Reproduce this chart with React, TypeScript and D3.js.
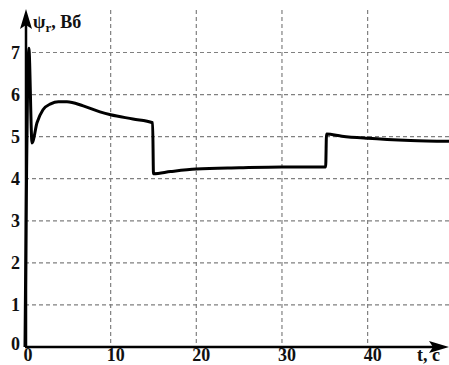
import { useEffect, useRef } from 'react'
import * as d3 from 'd3'

const W = 449, H = 365

// values: t in s, psi in Wb
const T = [0, 0.45, 0.82, 1.4, 2.1, 3.0, 3.9, 4.9, 6.8, 8.75, 10, 12.6, 14.9, 15.0, 17, 20, 25, 30, 35.1, 35.2, 37, 40, 45, 49.5]
const PSI = [0, 7.1, 4.85, 5.33, 5.64, 5.78, 5.83, 5.83, 5.73, 5.59, 5.52, 5.42, 5.33, 4.12, 4.17, 4.23, 4.26, 4.28, 4.28, 5.06, 5.01, 4.96, 4.91, 4.89]
const X_TICKS = [0, 10, 20, 30, 40]
const Y_TICKS = [0, 1, 2, 3, 4, 5, 6, 7]

const FONT = "'Liberation Serif', 'DejaVu Serif', serif"

export default function App() {
  const ref = useRef<SVGSVGElement>(null)

  useEffect(() => {
    document.body.style.margin = '0'
    const x = d3.scaleLinear([0, 49.5], [25, 449])
    const y = d3.scaleLinear([0, 7], [347, 52.5])
    const svg = d3.select(ref.current)
    svg.selectAll('*').remove()

    // grid
    const grid = svg.append('g').attr('stroke', '#808080').attr('stroke-width', 1.2).attr('stroke-dasharray', '4,3')
    Y_TICKS.filter(v => v > 0).forEach(v => {
      grid.append('line').attr('x1', x(0)).attr('x2', W).attr('y1', y(v)).attr('y2', y(v))
    })
    X_TICKS.filter(v => v > 0).forEach(v => {
      grid.append('line').attr('x1', x(v)).attr('x2', x(v)).attr('y1', 10).attr('y2', y(0))
    })

    // axes
    svg.append('line').attr('x1', 26).attr('x2', 26).attr('y1', y(0)).attr('y2', 20)
      .attr('stroke', '#000').attr('stroke-width', 2.5)
    svg.append('path').attr('d', 'M26,9 L32,29 L26,25 L20,29 Z').attr('fill', '#000')
    svg.append('line').attr('x1', 25).attr('x2', 440).attr('y1', y(0)).attr('y2', y(0))
      .attr('stroke', '#000').attr('stroke-width', 2.5)
    svg.append('path').attr('d', `M449,${y(0)} L429,${y(0) - 6} L433,${y(0)} L429,${y(0) + 6} Z`).attr('fill', '#000')

    const txt = (sel: any) => sel.style('font-family', FONT).style('font-size', '18px').style('font-weight', 'bold').attr('fill', '#111')

    // tick labels
    svg.append('g').selectAll('text').data(Y_TICKS).join('text')
      .attr('x', 20).attr('y', d => (d === 0 ? y(d) - 3 : y(d)) + 6)
      .attr('text-anchor', 'end').call(txt)
      .text(d => d)
    svg.append('g').selectAll('text').data(X_TICKS).join('text')
      .attr('x', d => x(d) + (d === 0 ? 3 : 5)).attr('y', 361)
      .attr('text-anchor', 'middle').call(txt)
      .text(d => d)

    // axis titles
    const yt = svg.append('text').attr('x', 33).attr('y', 28).call(txt)
    yt.append('tspan').text('ψ')
    yt.append('tspan').style('font-size', '13px').attr('dy', 4).text('r')
    yt.append('tspan').attr('dy', -4).text(', Вб')
    svg.append('text').attr('x', 417).attr('y', 361).call(txt).text('t, c')

    // curve
    const pts = T.map((t, i) => [t, PSI[i]] as [number, number])
    const line = d3.line<[number, number]>().x(d => x(d[0])).y(d => y(d[1])).curve(d3.curveMonotoneX)
    svg.append('path').attr('d', line(pts)).attr('fill', 'none').attr('stroke', '#000')
      .attr('stroke-width', 3).attr('stroke-linejoin', 'round')
  }, [])

  return <svg ref={ref} width={W} height={H} viewBox={`0 0 ${W} ${H}`} style={{ display: 'block', background: '#fff' }} />
}
